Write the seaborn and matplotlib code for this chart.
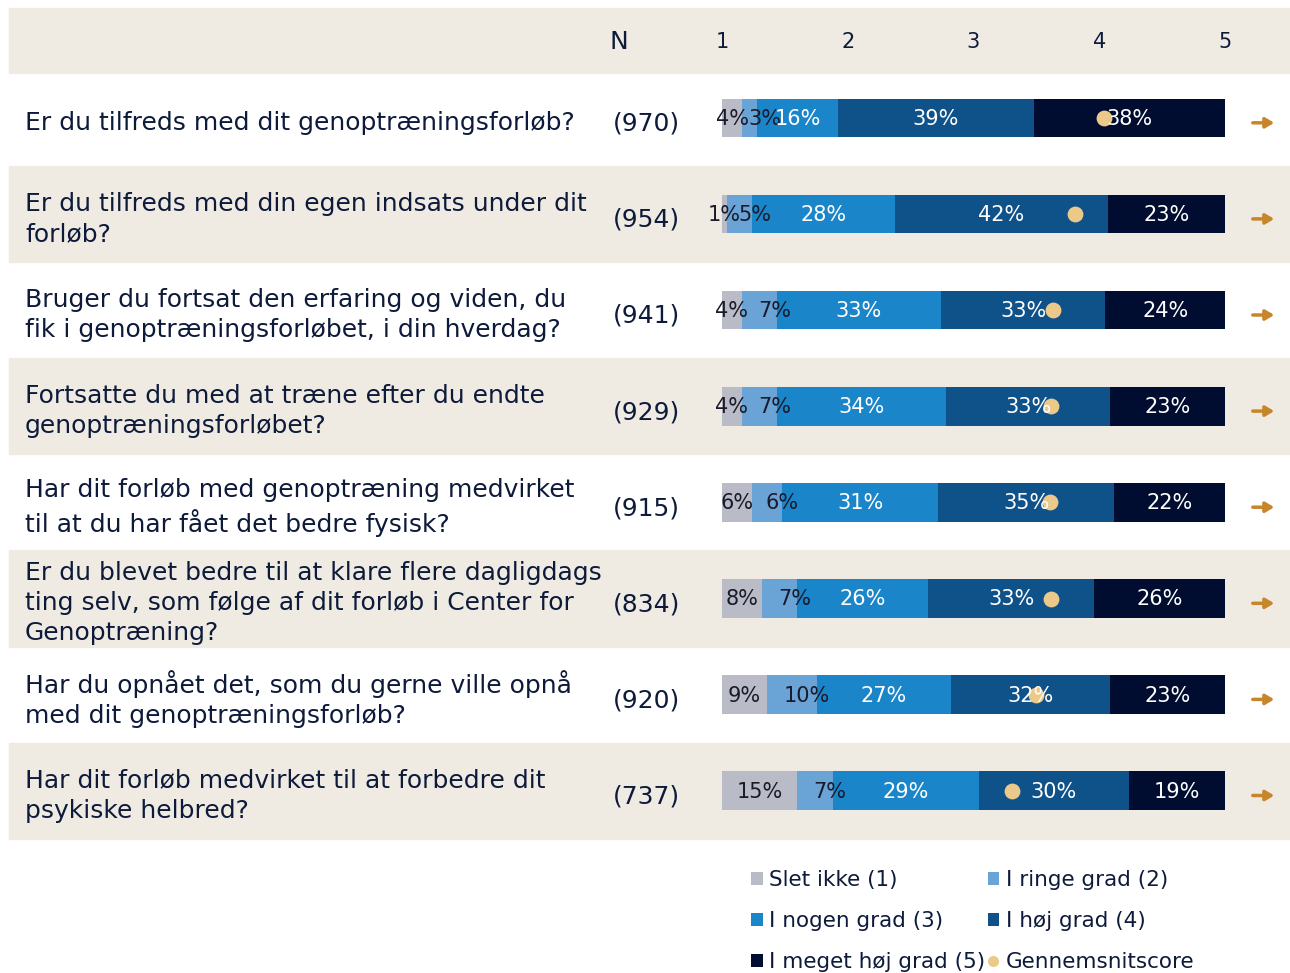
import matplotlib
matplotlib.use("Agg")
from matplotlib import pyplot as plt
from matplotlib import transforms
from matplotlib.patches import Rectangle, Patch
from matplotlib.lines import Line2D
import pandas as pd
import seaborn as sns

sns.set_style("white")
plt.rcParams['font.family'] = ['DejaVu Sans']

# ---------------------------------
# data

questions = [
    "Er du tilfreds med dit genoptræningsforløb?",
    "Er du tilfreds med din egen indsats under dit\nforløb?",
    "Bruger du fortsat den erfaring og viden, du\nfik i genoptræningsforløbet, i din hverdag?",
    "Fortsatte du med at træne efter du endte\ngenoptræningsforløbet?",
    "Har dit forløb med genoptræning medvirket\ntil at du har fået det bedre fysisk?",
    "Er du blevet bedre til at klare flere dagligdags\nting selv, som følge af dit forløb i Center for\nGenoptræning?",
    "Har du opnået det, som du gerne ville opnå\nmed dit genoptræningsforløb?",
    "Har dit forløb medvirket til at forbedre dit\npsykiske helbred?",
]
n_answers = [970, 954, 941, 929, 915, 834, 920, 737]

categories = ["Slet ikke (1)", "I ringe grad (2)", "I nogen grad (3)",
              "I høj grad (4)", "I meget høj grad (5)"]

slet_ikke = [4, 1, 4, 4, 6, 8, 9, 15]
ringe_grad = [3, 5, 7, 7, 6, 7, 10, 7]
nogen_grad = [16, 28, 33, 34, 31, 26, 27, 29]
hoej_grad = [39, 42, 33, 33, 35, 33, 32, 30]
meget_hoej = [38, 23, 24, 23, 22, 26, 23, 19]

mean_score = [4.04, 3.81, 3.63, 3.62, 3.61, 3.62, 3.50, 3.31]

score_ticks = [1, 2, 3, 4, 5]

colors = ["#b9bcc6", "#6aa3d5", "#1a86c9", "#0f5189", "#000d30"]
label_colors = ["#1a1a2a", "#1a1a2a", "white", "white", "white"]
label_shift = [0, 3, 0, 0, 0]  # the original nudges the 2nd label right a bit
beige = "#efebe3"
dot_color = "#ebc98b"
arrow_color = "#c8862b"
text_color = "#0d1a3a"

# ---------------------------------

W, H = 1290, 973
fig = plt.figure(figsize=(W / 100, H / 100), dpi=100)
fig.patch.set_facecolor("white")

# bar area: 722px .. 1225px wide, full height; rows 96.1px apart, first row at 118px
x0, x1 = 722, 1225
row0, row_h = 118, 96.1
ax = fig.add_axes([x0 / W, 0, (x1 - x0) / W, 1])
ax.set_facecolor("none")

values = [slet_ikke, ringe_grad, nogen_grad, hoej_grad, meget_hoej]
rows = []
for qi, q in enumerate(questions):
    total = sum(v[qi] for v in values)
    cum = 0
    for ci, cat in enumerate(categories):
        p = values[ci][qi]
        start = cum
        cum += p / total * 100
        rows.append(dict(question=q, category=cat, pct=p, start=start, end=cum))
df = pd.DataFrame(rows)

# stacked bars: draw cumulative ends, widest first
for ci in reversed(range(len(categories))):
    sub = df[df.category == categories[ci]]
    sns.barplot(data=sub, y="question", x="end", order=questions, orient="h",
                color=colors[ci], width=0.4, saturation=1, linewidth=0,
                ax=ax, zorder=2)

ax.set_xlim(0, 100)
ax.set_ylim((H - row0) / row_h, -row0 / row_h)
ax.axis("off")

# segment labels
for _, r in df.iterrows():
    ci = categories.index(r.category)
    qi = questions.index(r.question)
    ax.text((r.start + r.end) / 2 + label_shift[ci], qi + 0.01, f"{r.pct}%",
            ha="center", va="center", fontsize=15, color=label_colors[ci], zorder=4)

# mean dots
mean_x = [(m - 1) / 4 * 100 for m in mean_score]
ax.scatter(mean_x, range(len(questions)), s=130, color=dot_color, zorder=3,
           linewidths=0)

# backgrounds, question texts, N, arrows (figure x, data y)
trans = transforms.blended_transform_factory(fig.transFigure, ax.transData)
header_top, header_bot = (8 - row0) / row_h, (73 - row0) / row_h
ax.add_patch(Rectangle((9 / W, header_top), (W - 9) / W, header_bot - header_top,
                       transform=trans, color=beige, clip_on=False, zorder=0))
for qi, q in enumerate(questions):
    if qi % 2 == 1:
        ax.add_patch(Rectangle((9 / W, qi - 0.5), (W - 9) / W, 1.0, transform=trans,
                               color=beige, clip_on=False, zorder=0))
    ax.text(25 / W, qi + 0.05, q, transform=trans, ha="left", va="center",
            fontsize=18, color=text_color, linespacing=1.32, clip_on=False)
    ax.text(613 / W, qi + 0.06, f"({n_answers[qi]})", transform=trans, ha="left",
            va="center", fontsize=18, color=text_color, clip_on=False)
    ax.annotate("", xy=(1277 / W, qi + 0.05), xytext=(1250 / W, qi + 0.05),
                xycoords=trans, textcoords=trans, annotation_clip=False,
                arrowprops=dict(arrowstyle="-|>,head_length=0.5,head_width=0.3",
                                color=arrow_color, lw=2.5))

header_y = (42 - row0) / row_h
ax.text(610 / W, header_y, "N", transform=trans, ha="left", va="center",
        fontsize=18, color=text_color, clip_on=False)
for s in score_ticks:
    ax.text((s - 1) / 4 * 100, header_y, str(s), ha="center", va="center",
            fontsize=15, color=text_color, clip_on=False)

# legend
handles = [Patch(facecolor=c, edgecolor="none") for c in colors]
handles.append(Line2D([], [], marker="o", linestyle="none", markersize=8,
                      markerfacecolor=dot_color, markeredgecolor="none"))
labels = categories + ["Gennemsnitscore"]
order = [0, 2, 4, 1, 3, 5]
fig.legend([handles[i] for i in order], [labels[i] for i in order],
           loc="upper left", bbox_to_anchor=(751 / W, 1 - 870 / H), ncol=2,
           frameon=False, fontsize=15.5, handlelength=0.55, handleheight=0.55,
           handletextpad=0.3, columnspacing=0.1, labelspacing=0.98,
           labelcolor=text_color, borderaxespad=0, borderpad=0)

fig.savefig("out.png", dpi=100)
